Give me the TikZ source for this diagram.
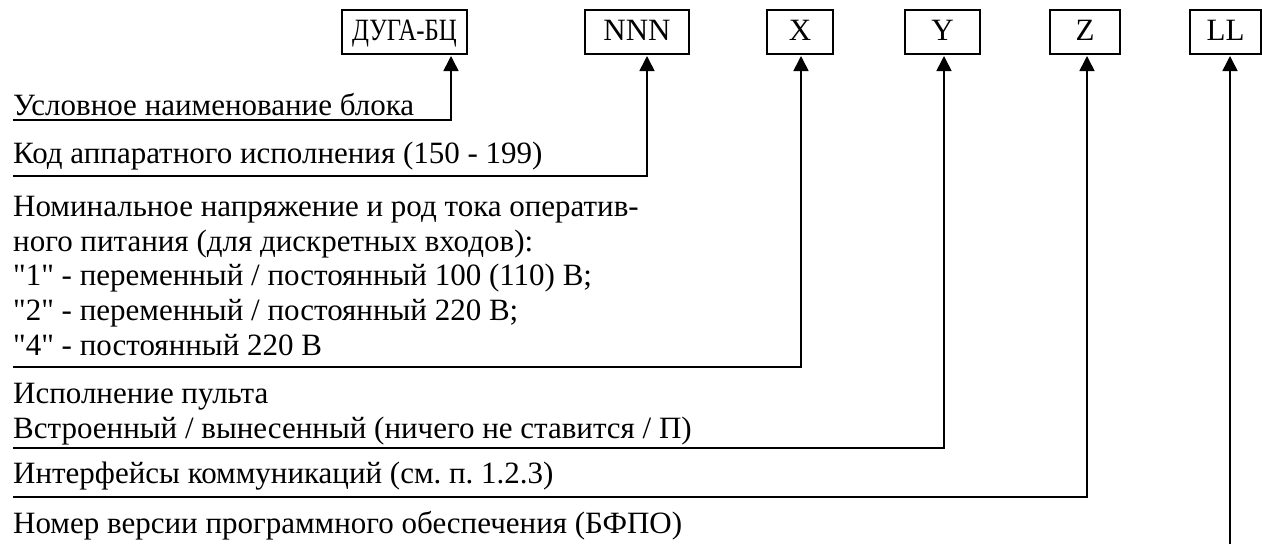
\documentclass[tikz,border=0pt]{standalone}
\usepackage{fontspec}
\setmainfont{Liberation Serif}
\newfontfamily\qfont[Ligatures=ResetAll]{Liberation Serif}
\usetikzlibrary{arrows.meta}
\newcommand{\myq}{{\qfont\symbol{34}}}
\begin{document}
\frenchspacing
\begin{tikzpicture}[x=1pt,y=-1pt,
  codebox/.style={draw, line width=1.6pt, inner sep=0pt, minimum height=44pt,
    font=\fontsize{31}{34}\selectfont, text height=20pt, text depth=4pt},
  lbl/.style={anchor=base west, inner sep=0pt, align=left,
    font=\fontsize{31}{34.6}\selectfont},
  conn/.style={line width=1.6pt, -{Triangle[length=15pt,width=15pt]}}]
\useasboundingbox (0,0) rectangle (1262,544);
% code boxes
\node[codebox, minimum width=125pt] (b1) at (404.5,32) {\scalebox{0.8}[1]{ДУГА-БЦ}};
\node[codebox, minimum width=104pt] (b2) at (637,32) {NNN};
\node[codebox, minimum width=66pt] (b3) at (800,32) {X};
\node[codebox, minimum width=75pt] (b4) at (942.5,32) {Y};
\node[codebox, minimum width=70pt] (b5) at (1085,32) {Z};
\node[codebox, minimum width=71pt] (b6) at (1225.5,32) {LL};
% labels
\node[lbl] (l1) at (13,115) {Условное наименование блока};
\node[lbl] (l2) at (13,163) {Код аппаратного исполнения (150 - 199)};
\node[lbl] (l3) at (13,355) {Номинальное напряжение и род тока оператив-\\ного питания (для дискретных входов):\\\myq1\myq{} - переменный / постоянный 100 (110) В;\\\myq2\myq{} - переменный / постоянный 220 В;\\\myq4\myq{} - постоянный 220 В};
\node[lbl, font=\fontsize{31}{35}\selectfont] (l4) at (13,438) {Исполнение пульта\\Встроенный / вынесенный (ничего не ставится / П)};
\node[lbl] (l5) at (13,483) {Интерфейсы коммуникаций (см. п. 1.2.3)};
\node[lbl] (l6) at (13,533) {Номер версии программного обеспечения (БФПО)};
% connector coordinates
\coordinate (s1) at (13,120);   \coordinate (e1) at (451,56);
\coordinate (s2) at (13,176);   \coordinate (e2) at (647,56);
\coordinate (s3) at (13,367);   \coordinate (e3) at (801,56);
\coordinate (s4) at (13,448);   \coordinate (e4) at (944,56);
\coordinate (s5) at (13,497);   \coordinate (e5) at (1087,56);
\coordinate (s6) at (1230,544); \coordinate (e6) at (1230,56);
\draw[conn] (s1) -| (e1);
\draw[conn] (s2) -| (e2);
\draw[conn] (s3) -| (e3);
\draw[conn] (s4) -| (e4);
\draw[conn] (s5) -| (e5);
\draw[conn] (s6) -- (e6);
\end{tikzpicture}
\end{document}
